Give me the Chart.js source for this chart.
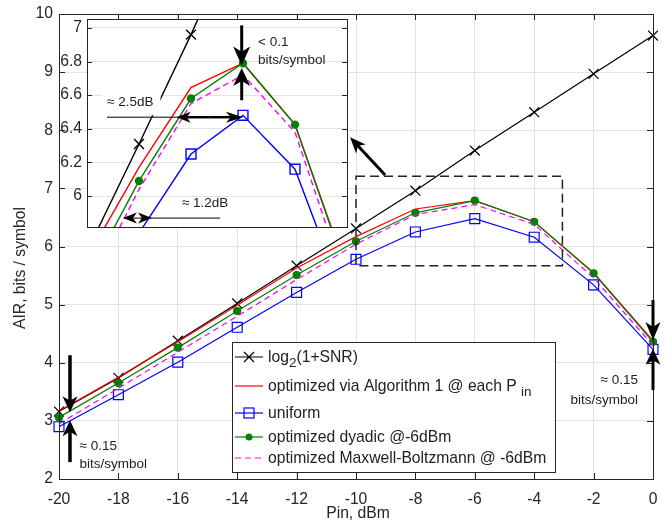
<!DOCTYPE html>
<html>
<head>
<meta charset="utf-8">
<script src="https://cdn.jsdelivr.net/npm/chart.js@4.4.1/dist/chart.umd.min.js"></script>
<style>
html,body{margin:0;padding:0;background:#fff;}
#wrap{position:relative;width:665px;height:524px;}
#main,#inset{position:absolute;left:0;top:0;}
</style>
</head>
<body>
<div id="wrap">
  <canvas id="main" width="665" height="524"></canvas>
  <canvas id="inset" width="360" height="240"></canvas>
</div>
<script>
// Data (AIR in bits/symbol vs launch power)
const pinDbm      = [-20, -18, -16, -14, -12, -10, -8, -6, -4, -2, 0];
const airLog2Snr  = [3.16, 3.74, 4.38, 5.02, 5.67, 6.31, 6.96, 7.65, 8.31, 8.97, 9.63];
const airOptAlg1  = [3.17, 3.75, 4.36, 4.99, 5.63, 6.17, 6.645, 6.79, 6.425, 5.55, 4.38];
const airUniform  = [2.90, 3.45, 4.01, 4.61, 5.21, 5.78, 6.25, 6.48, 6.16, 5.34, 4.23];
const airDyadic   = [3.06, 3.65, 4.26, 4.89, 5.51, 6.09, 6.58, 6.79, 6.425, 5.54, 4.36];
const airMaxwell  = [2.95, 3.56, 4.18, 4.80, 5.43, 6.04, 6.55, 6.72, 6.38, 5.46, 4.30];

const xTicks      = [-20, -18, -16, -14, -12, -10, -8, -6, -4, -2, 0];
const yTicks      = [2, 3, 4, 5, 6, 7, 8, 9, 10];
const insetYTicks = [6, 6.2, 6.4, 6.6, 6.8, 7];

const FONT = "'Liberation Sans', Arial, sans-serif";
const AXIS = "#262626";
const GRID = "#e3e3e3";
const FS = 15.7;

const pts = (ys) => pinDbm.map((x, i) => ({x, y: ys[i]}));

function makeSets(lw, noClip){
  const base = {fill:false, tension:0, borderWidth:lw, pointBorderWidth:lw, pointHoverRadius:0};
  const sets = [
    {...base, label:"log2(1+SNR)", data:pts(airLog2Snr), borderColor:"#000", pointStyle:"crossRot",
      pointRadius:7, pointBorderColor:"#000", pointBackgroundColor:"#000", order:5},
    {...base, label:"optimized via Algorithm 1", data:pts(airOptAlg1), borderColor:"#ff0000", pointRadius:0, order:4},
    {...base, label:"uniform", data:pts(airUniform), borderColor:"#0000ff", pointStyle:"rect",
      pointRadius:7, pointBorderColor:"#0000ff", pointBackgroundColor:"rgba(0,0,0,0)", order:3},
    {...base, label:"optimized dyadic", data:pts(airDyadic), borderColor:"#008000", pointStyle:"circle",
      pointRadius:3.5, pointBorderColor:"#008000", pointBackgroundColor:"#008000", order:2},
    {...base, label:"optimized Maxwell-Boltzmann", data:pts(airMaxwell), borderColor:"#ff00ff",
      borderDash:[6,4], pointRadius:0, order:1}
  ];
  if(noClip) sets.forEach(s => s.clip = false);
  return sets;
}

function arrow(g, x1, y1, x2, y2, lw, hl, hw){
  const a = Math.atan2(y2 - y1, x2 - x1), c = Math.cos(a), s = Math.sin(a);
  g.lineWidth = lw;
  g.beginPath();
  g.moveTo(x1, y1);
  g.lineTo(x2 - c*hl*0.7, y2 - s*hl*0.7);
  g.stroke();
  g.beginPath();
  g.moveTo(x2, y2);
  g.lineTo(x2 - c*hl - s*hw/2, y2 - s*hl + c*hw/2);
  g.lineTo(x2 - c*hl*0.72, y2 - s*hl*0.72);
  g.lineTo(x2 - c*hl + s*hw/2, y2 - s*hl - c*hw/2);
  g.closePath();
  g.fill();
}

function boxAndTicks(g, a, sx, sy, xt, yt, len){
  g.strokeStyle = AXIS; g.lineWidth = 1;
  g.strokeRect(Math.round(a.left)+0.5, Math.round(a.top)+0.5, Math.round(a.right-a.left), Math.round(a.bottom-a.top));
  g.beginPath();
  xt.forEach(v => {
    const x = Math.round(sx.getPixelForValue(v)) + 0.5;
    g.moveTo(x, a.bottom); g.lineTo(x, a.bottom - len);
    g.moveTo(x, a.top); g.lineTo(x, a.top + len);
  });
  yt.forEach(v => {
    const y = Math.round(sy.getPixelForValue(v)) + 0.5;
    g.moveTo(a.left, y); g.lineTo(a.left + len, y);
    g.moveTo(a.right, y); g.lineTo(a.right - len, y);
  });
  g.stroke();
}

function subText(g, parts, x, y){
  // parts: [text, isSub]
  parts.forEach(([t, sub]) => {
    g.font = (sub ? "13.5px " : FS + "px ") + FONT;
    g.fillText(t, x, sub ? y + 5 : y);
    x += g.measureText(t).width;
  });
}

const mainDecor = {
  id:"mainDecor",
  beforeDraw(c){
    const g = c.ctx; g.save(); g.fillStyle = "#fff"; g.fillRect(0, 0, c.width, c.height); g.restore();
  },
  afterDraw(c){
    const g = c.ctx, a = c.chartArea, sx = c.scales.x, sy = c.scales.y;
    const X = v => sx.getPixelForValue(v), Y = v => sy.getPixelForValue(v);
    g.save();
    boxAndTicks(g, a, sx, sy, xTicks, yTicks, 6);

    // dashed zoom box
    g.strokeStyle = "#222"; g.lineWidth = 1.5; g.setLineDash([9,5]);
    g.strokeRect(X(-10), Y(7.21), X(-3.05) - X(-10), Y(5.67) - Y(7.21));
    g.setLineDash([]);

    g.fillStyle = "#000"; g.strokeStyle = "#000";
    arrow(g, X(-9.02), Y(7.23), X(-10.2), Y(7.88), 3, 16, 13);

    // gap arrows at -20 dBm
    arrow(g, X(-19.63), Y(4.13), X(-19.63), Y(3.15), 3.5, 16, 15);
    arrow(g, X(-19.63), Y(2.29), X(-19.63), Y(3.01), 3.5, 16, 15);
    // gap arrows at 0 dBm
    arrow(g, X(0), Y(5.08), X(0), Y(4.39), 3, 18, 15);
    arrow(g, X(0), Y(3.53), X(0), Y(4.24), 3, 16, 15);

    g.fillStyle = "#222"; g.font = "13.5px " + FONT; g.textBaseline = "middle";
    g.textAlign = "left";
    g.fillText("\u2248 0.15", X(-19.31), Y(2.57));
    g.fillText("bits/symbol", X(-19.31), Y(2.26));
    g.textAlign = "right";
    g.fillText("\u2248 0.15", X(-0.505), Y(3.69));
    g.fillText("bits/symbol", X(-0.505), Y(3.36));

    // legend
    const L = 232, T = 342, W = 323, H = 130;
    g.fillStyle = "#fff"; g.fillRect(L, T, W, H);
    g.strokeStyle = AXIS; g.lineWidth = 1; g.strokeRect(L + 0.5, T + 0.5, W, H);
    const rows = [357, 386, 413, 437, 458];
    const sx0 = 235, sx1 = 263, mx = 249, tx = 268;
    g.lineWidth = 1.2;
    // row 1
    g.strokeStyle = "#000"; g.beginPath(); g.moveTo(sx0, rows[0]); g.lineTo(sx1, rows[0]);
    g.moveTo(mx-5, rows[0]-5); g.lineTo(mx+5, rows[0]+5); g.moveTo(mx-5, rows[0]+5); g.lineTo(mx+5, rows[0]-5); g.stroke();
    // row 2
    g.strokeStyle = "#ff0000"; g.beginPath(); g.moveTo(sx0, rows[1]); g.lineTo(sx1, rows[1]); g.stroke();
    // row 3
    g.strokeStyle = "#0000ff"; g.beginPath(); g.moveTo(sx0, rows[2]); g.lineTo(sx1, rows[2]); g.stroke();
    g.strokeRect(mx-5, rows[2]-5, 10, 10);
    // row 4
    g.strokeStyle = "#008000"; g.fillStyle = "#008000"; g.beginPath(); g.moveTo(sx0, rows[3]); g.lineTo(sx1, rows[3]); g.stroke();
    g.beginPath(); g.arc(mx, rows[3], 3.5, 0, Math.PI*2); g.fill();
    // row 5
    g.strokeStyle = "#ff00ff"; g.setLineDash([6,4]); g.beginPath(); g.moveTo(sx0, rows[4]); g.lineTo(sx1, rows[4]); g.stroke(); g.setLineDash([]);

    g.fillStyle = "#222"; g.textAlign = "left"; g.textBaseline = "alphabetic";
    subText(g, [["log", 0], ["2", 1], ["(1+SNR)", 0]], tx, rows[0] + 5);
    subText(g, [["optimized via Algorithm 1 @ each P ", 0], ["in", 1]], tx, rows[1] + 5);
    subText(g, [["uniform", 0]], tx, rows[2] + 5);
    subText(g, [["optimized dyadic @-6dBm", 0]], tx, rows[3] + 5);
    subText(g, [["optimized Maxwell-Boltzmann @ -6dBm", 0]], tx, rows[4] + 5);

    // axis titles
    g.font = FS + "px " + FONT; g.fillStyle = AXIS; g.textAlign = "center"; g.textBaseline = "middle";
    g.fillText("Pin, dBm", 358, 514);
    g.translate(21, 268); g.rotate(-Math.PI/2); g.fillText("AIR, bits / symbol", 0, 0);
    g.restore();
  }
};

const insetDecor = {
  id:"insetDecor",
  beforeDraw(c){
    const g = c.ctx, a = c.chartArea;
    g.save(); g.fillStyle = "#fff"; g.fillRect(a.left, a.top, a.right - a.left, a.bottom - a.top); g.restore();
  },
  afterDraw(c){
    const g = c.ctx, a = c.chartArea, sx = c.scales.x, sy = c.scales.y;
    const X = v => sx.getPixelForValue(v), Y = v => sy.getPixelForValue(v);
    g.save();
    boxAndTicks(g, a, sx, sy, [], insetYTicks, 5);

    g.font = "13.5px " + FONT; g.textBaseline = "middle"; g.textAlign = "left";
    // 2.5 dB label with white box
    const t1 = "\u2248 2.5dB", w1 = g.measureText(t1).width;
    g.fillStyle = "#fff"; g.fillRect(X(-11.23) - 5, Y(6.558) - 13, w1 + 12, 26);
    g.fillStyle = "#222"; g.fillText(t1, X(-11.23), Y(6.558));
    g.fillText("< 0.1", X(-5.42), Y(6.914));
    g.fillText("bits/symbol", X(-5.42), Y(6.807));
    g.fillText("\u2248 1.2dB", X(-8.35), Y(5.958));

    g.fillStyle = "#000"; g.strokeStyle = "#000";
    // < 0.1 arrows
    arrow(g, X(-6.05), Y(7.015), X(-6.05), Y(6.777), 3, 19, 17);
    arrow(g, X(-6.05), Y(6.57), X(-6.05), Y(6.762), 3, 18, 17);
    // 2.5 dB arrows
    g.lineWidth = 1; g.beginPath(); g.moveTo(X(-11.23), Y(6.469)); g.lineTo(X(-8.3), Y(6.469)); g.stroke();
    arrow(g, X(-7.3), Y(6.469), X(-8.55), Y(6.469), 2.5, 14, 11);
    arrow(g, X(-7.3), Y(6.469), X(-6.0), Y(6.469), 2.5, 17, 11);
    // 1.2 dB arrows
    g.lineWidth = 1; g.beginPath(); g.moveTo(X(-6.88), Y(5.869)); g.lineTo(X(-9.6), Y(5.869)); g.stroke();
    arrow(g, X(-10.06), Y(5.869), X(-10.62), Y(5.869), 1, 14, 11);
    arrow(g, X(-10.06), Y(5.869), X(-9.5), Y(5.869), 1, 14, 11);
    g.restore();
  }
};

new Chart(document.getElementById("main"), {
  type:"line",
  data:{datasets: makeSets(1.2, true)},
  options:{
    responsive:false, animation:false, devicePixelRatio:1,
    layout:{padding:{left:0, top:14, right:12, bottom:0}},
    plugins:{legend:{display:false}, tooltip:{enabled:false}},
    scales:{
      x:{type:"linear", min:-20, max:0,
        afterBuildTicks: s => { s.ticks = xTicks.map(v => ({value:v})); },
        afterFit: s => { s.height = 45; s.paddingLeft = 0; s.paddingRight = 0; },
        ticks:{font:{family:FONT, size:FS}, color:AXIS, padding:11, maxRotation:0},
        grid:{color:GRID, drawTicks:false}, border:{display:false}},
      y:{type:"linear", min:2, max:10,
        afterBuildTicks: s => { s.ticks = yTicks.map(v => ({value:v})); },
        afterFit: s => { s.width = 59; s.paddingTop = 0; s.paddingBottom = 0; },
        ticks:{font:{family:FONT, size:FS}, color:AXIS, padding:6},
        grid:{color:GRID, drawTicks:false}, border:{display:false}}
    }
  },
  plugins:[mainDecor]
});

new Chart(document.getElementById("inset"), {
  type:"line",
  data:{datasets: makeSets(1.4, false)},
  options:{
    responsive:false, animation:false, devicePixelRatio:1,
    layout:{padding:{left:0, top:19, right:13, bottom:13}},
    plugins:{legend:{display:false}, tooltip:{enabled:false}},
    scales:{
      x:{type:"linear", min:-12, max:-2, display:false},
      y:{type:"linear", min:5.816, max:7.053,
        afterBuildTicks: s => { s.ticks = insetYTicks.map(v => ({value:v})); },
        afterFit: s => { s.width = 87; s.paddingTop = 0; s.paddingBottom = 0; },
        ticks:{font:{family:FONT, size:FS}, color:AXIS, padding:5, callback: v => String(v)},
        grid:{color:GRID, drawTicks:false}, border:{display:false}}
    }
  },
  plugins:[insetDecor]
});
</script>
</body>
</html>
